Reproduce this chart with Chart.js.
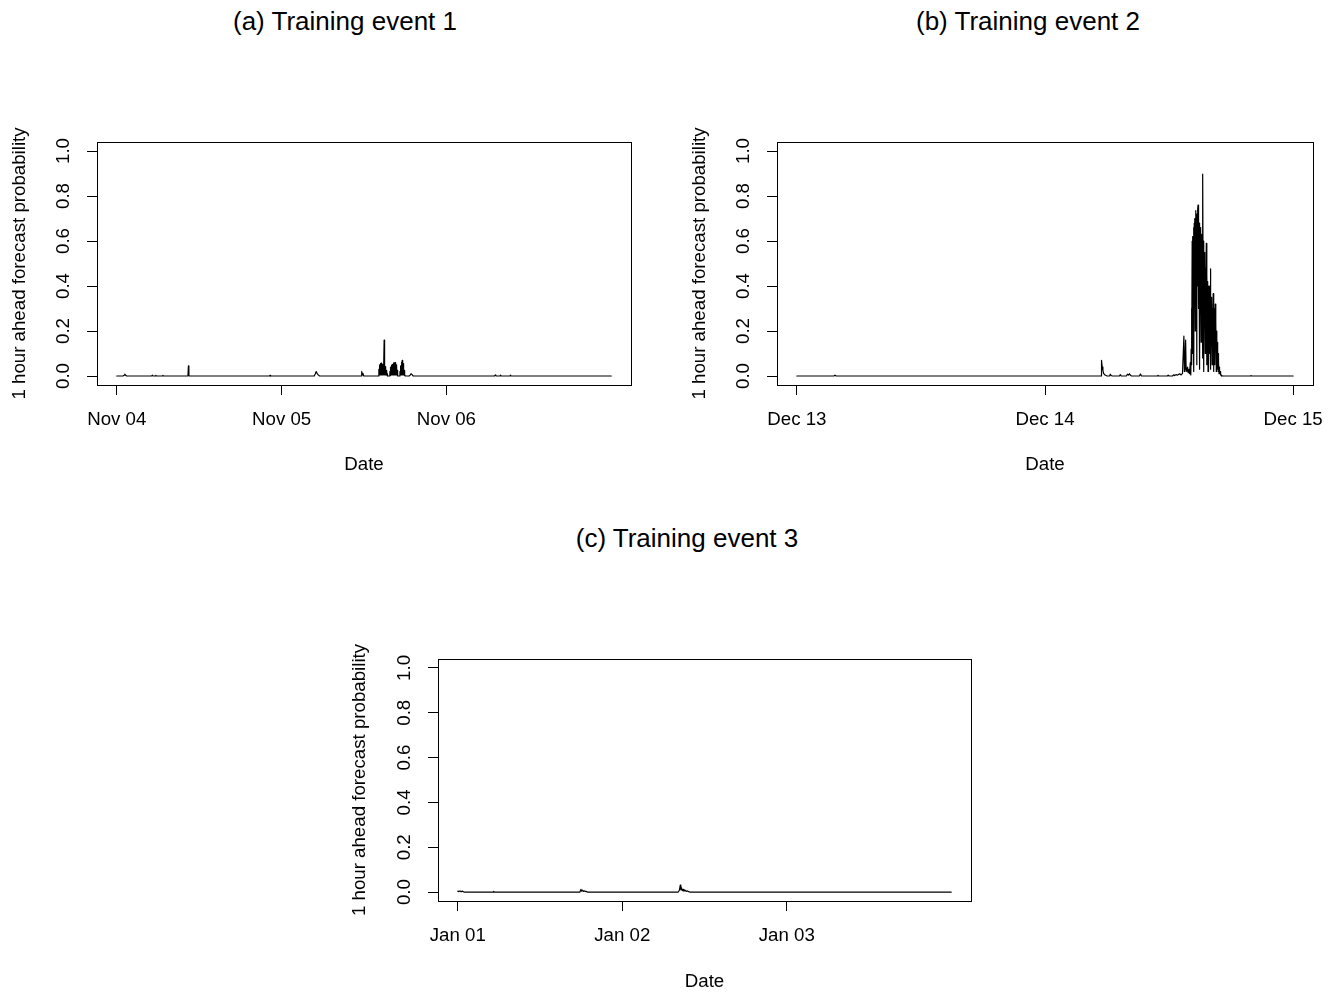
<!DOCTYPE html>
<html>
<head>
<meta charset="utf-8">
<script src="https://cdn.jsdelivr.net/npm/chart.js@4.4.1/dist/chart.umd.min.js"></script>
<style>
  html, body { margin: 0; padding: 0; background: #fff; }
  body { width: 1334px; height: 994px; position: relative; overflow: hidden; }
  canvas { position: absolute; }
  .ptitle {
    position: absolute; width: 600px; text-align: center;
    font-family: "Liberation Sans", Arial, Helvetica, sans-serif;
    font-size: 26px; line-height: 26px; color: #000; white-space: nowrap;
  }
</style>
</head>
<body>
<div class="ptitle" id="titleA" style="left:45px; top:8px;"></div>
<div class="ptitle" id="titleB" style="left:728px; top:8px;"></div>
<div class="ptitle" id="titleC" style="left:387px; top:525px;"></div>
<canvas id="chartA" width="667" height="400" style="left:0px; top:100px;"></canvas>
<canvas id="chartB" width="667" height="400" style="left:667px; top:100px;"></canvas>
<canvas id="chartC" width="667" height="377" style="left:334px; top:617px;"></canvas>
<script>
// ---- Panel titles and axis text ----
const panelTitles = ['(a) Training event 1', '(b) Training event 2', '(c) Training event 3'];
const xAxisTitle = 'Date';
const yAxisTitle = '1 hour ahead forecast probability';

// ---- Shared probability axis ----
const yTicks = [0, 0.2, 0.4, 0.6, 0.8, 1.0];
const yTickLabels = ['0.0', '0.2', '0.4', '0.6', '0.8', '1.0'];

// ---- Event 1: minutes since Nov 04 00:00 ----
const event1Minutes = [
  0, 55, 65, 70, 78, 85,
  305, 312, 318, 336, 341, 346, 398, 403, 408,
  622, 626, 630, 634,
  1334, 1339, 1344,
  1725, 1735, 1742, 1750, 1760, 1772,
  2135, 2140, 2145, 2150, 2158,
  2288, 2290, 2292, 2294, 2296, 2298, 2300, 2302, 2304, 2306, 2308, 2310, 2312, 2314, 2316, 2318,
  2320, 2322, 2324, 2326, 2328, 2330, 2332, 2334, 2336, 2338, 2340, 2342, 2344, 2346, 2348, 2350,
  2352, 2354, 2356, 2358, 2360, 2362, 2364, 2366,
  2384, 2386, 2388, 2390, 2392, 2394, 2396, 2398, 2400, 2402, 2404, 2406, 2408, 2410, 2412, 2414,
  2416, 2418, 2420, 2422, 2424, 2426, 2428, 2430, 2432, 2434, 2436, 2438, 2440, 2442, 2444, 2446,
  2448, 2450, 2452, 2454, 2456,
  2472, 2474, 2476, 2478, 2480, 2482, 2484, 2486, 2488, 2490, 2492, 2494, 2496, 2498, 2500, 2502,
  2504, 2506, 2508, 2510, 2512, 2514, 2516, 2518, 2520,
  2555, 2563, 2571, 2580, 2590,
  3300, 3309, 3315, 3348, 3353, 3358, 3435, 3440, 3445,
  4320
];
const event1Prob = [
  0, 0, 0.004, 0.008, 0.003, 0,
  0, 0.004, 0, 0, 0.003, 0, 0, 0.003, 0,
  0, 0.045, 0.005, 0,
  0, 0.003, 0,
  0, 0.01, 0.02, 0.012, 0.005, 0,
  0, 0.02, 0.005, 0.012, 0,
  0, 0.03, 0.005, 0.045, 0.01, 0.05, 0.005, 0.052, 0.01, 0.055, 0.005, 0.057, 0.01, 0.055, 0.005, 0.05,
  0.01, 0.052, 0.005, 0.05, 0.01, 0.048, 0.005, 0.045, 0.16, 0.005, 0.04, 0.01, 0.042, 0.005, 0.035, 0.01,
  0.03, 0.005, 0.025, 0.005, 0.02, 0.003, 0.01, 0,
  0, 0.02, 0.003, 0.035, 0.005, 0.04, 0.01, 0.045, 0.005, 0.048, 0.01, 0.05, 0.005, 0.052, 0.01, 0.05,
  0.005, 0.055, 0.01, 0.058, 0.005, 0.06, 0.01, 0.058, 0.005, 0.06, 0.01, 0.055, 0.005, 0.05, 0.01, 0.04,
  0.005, 0.025, 0.003, 0.01, 0,
  0, 0.02, 0.005, 0.035, 0.01, 0.045, 0.005, 0.055, 0.01, 0.062, 0.005, 0.07, 0.01, 0.065, 0.005, 0.055,
  0.01, 0.04, 0.005, 0.025, 0.003, 0.015, 0.002, 0.006, 0,
  0, 0.004, 0.01, 0.006, 0,
  0, 0.005, 0, 0, 0.004, 0, 0, 0.004, 0,
  0
];
const event1TickMinutes = [0, 1440, 2880];
const event1TickLabels = ['Nov 04', 'Nov 05', 'Nov 06'];

// ---- Event 2: minutes since Dec 13 00:00 ----
const event2Minutes = [
  0, 215, 221, 227,
  1765, 1768, 1772, 1776, 1780, 1786, 1792, 1800,
  1815, 1819, 1824, 1830, 1872, 1877, 1882,
  1912, 1918, 1924, 1930, 1936, 1942, 1988, 1994, 2000,
  2090, 2095, 2100, 2150, 2155, 2160,
  2180, 2186, 2192, 2200, 2210, 2220, 2230, 2238,
  2246, 2249, 2252, 2256, 2259, 2263, 2267, 2271, 2275, 2279, 2283, 2286, 2288,
  2290, 2292, 2294, 2296, 2298, 2300, 2302, 2304, 2306, 2308, 2310, 2312, 2314, 2316, 2318, 2320,
  2322, 2324, 2326, 2328, 2330, 2332, 2334, 2336, 2338, 2340, 2342, 2344, 2346, 2348, 2350, 2352,
  2354, 2356, 2358, 2360, 2362, 2364, 2366, 2368, 2370, 2372, 2374, 2376, 2378, 2380, 2382, 2384,
  2386, 2388, 2390, 2392, 2394, 2396, 2398, 2400, 2402, 2404, 2406, 2408, 2410, 2412, 2414, 2416,
  2418, 2420, 2422, 2424, 2426, 2428, 2430, 2432, 2434, 2436, 2438, 2440, 2442, 2444, 2446, 2448,
  2450, 2452, 2454, 2456, 2458, 2460, 2462, 2466,
  2630, 2635, 2640,
  2880
];
const event2Prob = [
  0, 0, 0.004, 0,
  0, 0.07, 0.04, 0.025, 0.012, 0.006, 0.003, 0,
  0, 0.008, 0.002, 0, 0, 0.006, 0,
  0, 0.008, 0.004, 0.01, 0.003, 0, 0, 0.009, 0,
  0, 0.003, 0, 0, 0.004, 0,
  0, 0.005, 0.002, 0.006, 0.004, 0.01, 0.005, 0.012,
  0.177, 0.02, 0.05, 0.16, 0.03, 0.02, 0.04, 0.015, 0.03, 0.01, 0.06, 0.005, 0.12,
  0.30, 0.05, 0.60, 0.10, 0.62, 0.30, 0.66, 0.02, 0.68, 0.45, 0.70, 0.20, 0.735, 0.50, 0.70, 0.05,
  0.72, 0.40, 0.74, 0.76, 0.30, 0.70, 0.55, 0.68, 0.03, 0.66, 0.45, 0.65, 0.15, 0.63, 0.50, 0.62,
  0.08, 0.897, 0.35, 0.60, 0.02, 0.55, 0.40, 0.50, 0.10, 0.48, 0.30, 0.59, 0.05, 0.45, 0.25, 0.42,
  0.02, 0.40, 0.30, 0.38, 0.10, 0.40, 0.20, 0.476, 0.03, 0.35, 0.25, 0.33, 0.05, 0.30, 0.20, 0.366,
  0.02, 0.28, 0.15, 0.30, 0.05, 0.32, 0.12, 0.25, 0.02, 0.20, 0.08, 0.15, 0.03, 0.10, 0.02, 0.06,
  0.01, 0.04, 0.01, 0.02, 0.005, 0.01, 0.003, 0,
  0, 0.002, 0,
  0
];
const event2TickMinutes = [0, 1440, 2880];
const event2TickLabels = ['Dec 13', 'Dec 14', 'Dec 15'];

// ---- Event 3: minutes since Jan 01 00:00 ----
const event3Minutes = [
  0, 10, 20, 30, 40, 50, 60,
  310, 315, 320,
  1070, 1078, 1085, 1092, 1100, 1110, 1120, 1127, 1135,
  1930, 1940, 1948, 1953, 1958, 1965, 1972, 1980, 1990, 2000, 2010, 2022, 2030,
  4320
];
const event3Prob = [
  0.004, 0.002, 0.005, 0.001, 0.004, 0.001, 0,
  0, 0.003, 0,
  0, 0.012, 0.004, 0.008, 0.003, 0.005, 0.002, 0.003, 0,
  0, 0.008, 0.031, 0.01, 0.02, 0.006, 0.012, 0.004, 0.008, 0.003, 0.005, 0.002, 0,
  0
];
const event3TickMinutes = [0, 1440, 2880];
const event3TickLabels = ['Jan 01', 'Jan 02', 'Jan 03'];

const FONT_FAMILY = '"Liberation Sans", Arial, Helvetica, sans-serif';

// Plot frame drawn around the plotting region
const framePlugin = {
  id: 'frame',
  afterDatasetsDraw(chart) {
    const {ctx, chartArea: a} = chart;
    ctx.save();
    ctx.strokeStyle = '#000';
    ctx.lineWidth = 1;
    ctx.strokeRect(Math.round(a.left) + 0.5, Math.round(a.top) + 0.5,
                   Math.round(a.right - a.left), Math.round(a.bottom - a.top));
    ctx.restore();
  }
};

function buildPanel(canvasId, minutes, probs, tickMinutes, tickLabels, geom) {
  const span = minutes[minutes.length - 1] - minutes[0];
  const points = minutes.map((m, i) => ({x: m, y: probs[i]}));
  return new Chart(document.getElementById(canvasId), {
    type: 'line',
    data: {
      datasets: [{
        data: points,
        borderColor: '#000',
        borderWidth: 1.2,
        pointRadius: 0,
        tension: 0,
        fill: false,
        borderJoinStyle: 'round',
        borderCapStyle: 'round'
      }]
    },
    options: {
      responsive: false,
      maintainAspectRatio: false,
      animation: false,
      events: [],
      layout: { padding: { top: geom.padTop, right: geom.padRight, left: 0, bottom: 0 } },
      plugins: { legend: { display: false }, tooltip: { enabled: false }, title: { display: false } },
      scales: {
        x: {
          type: 'linear',
          min: minutes[0] - 0.04 * span,
          max: minutes[minutes.length - 1] + 0.04 * span,
          afterBuildTicks: s => { s.ticks = tickMinutes.map(v => ({value: v})); },
          afterFit: s => { s.height = geom.xHeight; s.paddingLeft = 0; s.paddingRight = 0; },
          grid: { display: true, drawOnChartArea: false, drawTicks: true, tickLength: 10, color: '#000', lineWidth: 1 },
          border: { display: true, color: '#000', width: 1 },
          ticks: {
            autoSkip: false, maxRotation: 0, minRotation: 0, padding: 13.8, color: '#000',
            font: { family: FONT_FAMILY, size: 18.7 },
            callback: (v, i) => tickLabels[i]
          },
          title: {
            display: true, text: xAxisTitle, color: '#000',
            font: { family: FONT_FAMILY, size: 18.7 },
            padding: { top: 0, bottom: geom.xTitlePad }
          }
        },
        y: {
          type: 'linear',
          min: -0.04,
          max: 1.04,
          afterBuildTicks: s => { s.ticks = yTicks.map(v => ({value: v})); },
          afterFit: s => { s.width = geom.yWidth; s.paddingTop = 0; s.paddingBottom = 0; },
          grid: { display: true, drawOnChartArea: false, drawTicks: true, tickLength: 10, color: '#000', lineWidth: 1 },
          border: { display: true, color: '#000', width: 1 },
          ticks: {
            autoSkip: false, minRotation: 90, maxRotation: 90, crossAlign: 'center', padding: 10.5,
            color: '#000', font: { family: FONT_FAMILY, size: 18.7 },
            callback: (v, i) => yTickLabels[i]
          },
          title: {
            display: true, text: yAxisTitle, color: '#000',
            font: { family: FONT_FAMILY, size: 18.7 },
            padding: { top: geom.yTitlePad, bottom: 0 }
          }
        }
      }
    },
    plugins: [framePlugin]
  });
}

document.getElementById('titleA').textContent = panelTitles[0];
document.getElementById('titleB').textContent = panelTitles[1];
document.getElementById('titleC').textContent = panelTitles[2];

buildPanel('chartA', event1Minutes, event1Prob, event1TickMinutes, event1TickLabels,
  { padTop: 42, padRight: 36, yWidth: 97, xHeight: 115, xTitlePad: 23.8, yTitlePad: 9 });
buildPanel('chartB', event2Minutes, event2Prob, event2TickMinutes, event2TickLabels,
  { padTop: 42, padRight: 21, yWidth: 110, xHeight: 115, xTitlePad: 23.8, yTitlePad: 22 });
buildPanel('chartC', event3Minutes, event3Prob, event3TickMinutes, event3TickLabels,
  { padTop: 42, padRight: 30, yWidth: 104, xHeight: 93, xTitlePad: 0.8, yTitlePad: 15 });
</script>
</body>
</html>
